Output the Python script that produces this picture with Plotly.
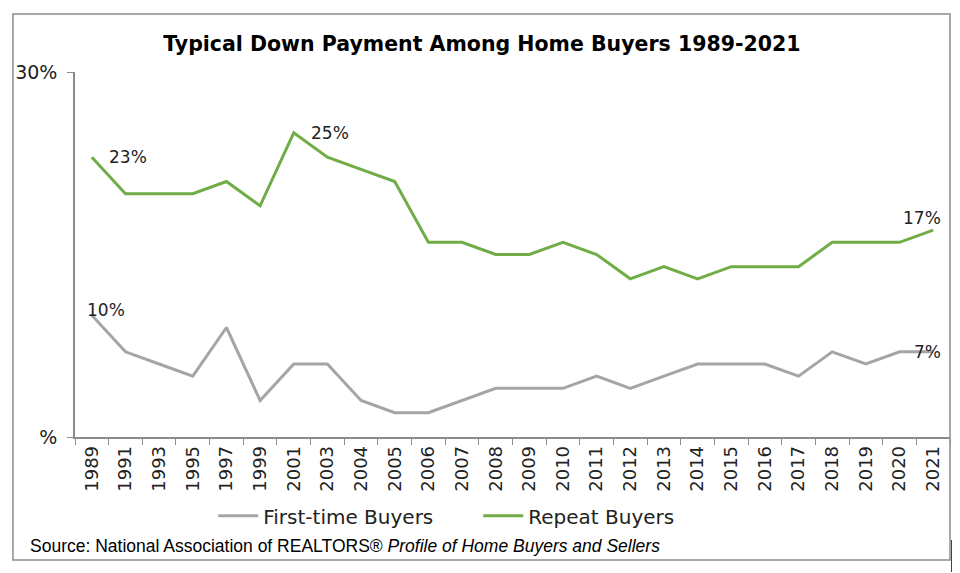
import plotly.graph_objects as go

# Typical down payment (%) by survey year
years = ["1989", "1991", "1993", "1995", "1997", "1999", "2001", "2003", "2004",
         "2005", "2006", "2007", "2008", "2009", "2010", "2011", "2012", "2013",
         "2014", "2015", "2016", "2017", "2018", "2019", "2020", "2021"]
first_time = [10, 7, 6, 5, 9, 3, 6, 6, 3, 2, 2, 3, 4, 4, 4, 5, 4, 5, 6, 6, 6, 5, 7, 6, 7, 7]
repeat = [23, 20, 20, 20, 21, 19, 25, 23, 22, 21, 16, 16, 15, 15, 16, 15, 13, 14,
          13, 14, 14, 14, 16, 16, 16, 17]
y_ticks = [0, 30]
y_labels = ["% ", "30% "]

FONT = "DejaVu Sans"
GRAY = "#a5a5a5"
GREEN = "#70ad47"

fig = go.Figure()
fig.add_trace(go.Scatter(x=years, y=first_time, name="First-time Buyers", mode="lines",
                         line=dict(color=GRAY, width=3)))
fig.add_trace(go.Scatter(x=years, y=repeat, name="Repeat Buyers", mode="lines",
                         line=dict(color=GREEN, width=3)))

# data labels (x given as category index)
last = len(years) - 1
lbl = dict(showarrow=False, font=dict(family=FONT, size=17, color="#222222"))
fig.add_annotation(x=0, y=repeat[0], text="23%", xanchor="left", xshift=15, **lbl)
fig.add_annotation(x=6, y=repeat[6], text="25%", xanchor="left", xshift=15, **lbl)
fig.add_annotation(x=0, y=first_time[0], text="10%", xanchor="left", xshift=-7, yshift=5, **lbl)
fig.add_annotation(x=last, y=repeat[-1], text="17%", xanchor="right", xshift=10, yshift=12, **lbl)
fig.add_annotation(x=last, y=first_time[-1], text="7%", xanchor="right", xshift=10, **lbl)

# source line
fig.add_annotation(xref="paper", yref="paper", x=-0.054, y=-0.299, xanchor="left", yanchor="middle",
                   showarrow=False,
                   text="Source: National Association of REALTORS® <i>Profile of Home Buyers and Sellers</i>",
                   font=dict(family="Liberation Sans", size=17.5, color="#000000"))

# outer frame
fig.add_shape(type="rect", xref="paper", yref="paper", x0=-0.0709, x1=1.0, y0=-0.337, y1=1.159,
              line=dict(color="#8c8c8c", width=1.5))
fig.add_shape(type="line", xref="paper", yref="paper", x0=1.0023, x1=1.0023, y0=-0.282, y1=-0.37,
              line=dict(color="#000000", width=1.5))

fig.update_layout(
    width=960, height=573,
    margin=dict(l=67, r=18, t=64, b=144),
    paper_bgcolor="white", plot_bgcolor="white",
    title=dict(text="<b>Typical Down Payment Among Home Buyers 1989-2021</b>",
               x=0.465, xref="paper", xanchor="center", y=0.937, yanchor="middle",
               font=dict(family=FONT, size=20.5, color="#000000")),
    legend=dict(orientation="h", x=0.158, xanchor="left", y=-0.216, yanchor="middle",
                font=dict(family=FONT, size=20, color="#222222"), itemwidth=40,
                entrywidth=210, traceorder="normal"),
    xaxis=dict(type="category", range=[-0.5, last + 0.5], tickangle=-90, ticks="outside",
               tickson="boundaries", ticklen=6, tickcolor="#8c8c8c", showline=True,
               linecolor="#8c8c8c", linewidth=1.5, showgrid=False,
               tickfont=dict(family=FONT, size=18, color="#222222")),
    yaxis=dict(range=[0, 30], tickvals=y_ticks, ticktext=y_labels, ticks="outside",
               ticklen=6, tickcolor="#8c8c8c", showline=True, linecolor="#8c8c8c",
               linewidth=1.5, gridcolor="#a0a0a0", gridwidth=1.5, zeroline=False,
               automargin=False,
               tickfont=dict(family=FONT, size=19, color="#222222")),
)

fig.write_html("out.html")
